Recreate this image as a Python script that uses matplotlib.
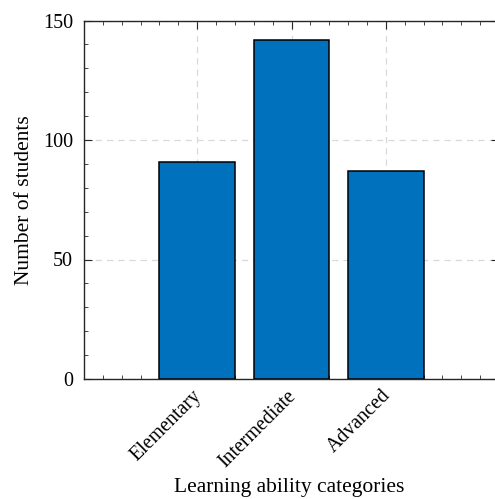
import matplotlib
matplotlib.use("Agg")
import matplotlib.pyplot as plt
from matplotlib.ticker import MultipleLocator

categories = ["Elementary", "Intermediate", "Advanced"]
counts = [91, 142, 87]

plt.rcParams["font.family"] = ["Liberation Serif", "DejaVu Serif"]

W, H = 495, 499
fig = plt.figure(figsize=(W / 100, H / 100), dpi=100)
# axes box in pixels: left 84, right 499 (runs past the canvas), top 20, bottom 379
left, right, top, bottom = 84, 499, 20.5, 379
ax = fig.add_axes([left / W, 1 - bottom / H, (right - left) / W, (bottom - top) / H])

x = list(range(1, len(categories) + 1))
ax.bar(x, counts, width=0.8, color="#0072BD", edgecolor="black", linewidth=1.1, zorder=3)

ax.set_xlim(-0.2, 4.2)
ax.set_ylim(0, 150)
ax.set_xticks(x)
ax.set_xticklabels([])
# rotated category labels, anchored just below each tick
for xi, name in zip(x, categories):
    ax.annotate(name, xy=(xi, 0), xycoords=("data", "axes fraction"),
                xytext=(-3.6, -5.3), textcoords="offset points",
                rotation=45, ha="right", va="top", rotation_mode="anchor",
                fontsize=14.3, annotation_clip=False)
ax.set_yticks([0, 50, 100, 150])
ax.tick_params(axis="y", labelsize=14.5, pad=8)
ax.xaxis.set_minor_locator(MultipleLocator(0.2))
ax.yaxis.set_minor_locator(MultipleLocator(10))
ax.tick_params(which="both", direction="in", top=True, right=True, color="#262626")
ax.tick_params(which="major", length=5.5, width=0.8)
ax.tick_params(which="minor", length=3, width=0.6)
for s in ax.spines.values():
    s.set_linewidth(1.0)
    s.set_color("#262626")

ax.grid(True, which="major", linestyle=(0, (5, 4)), color="#d9d9d9", linewidth=0.9, zorder=0)
ax.set_axisbelow(True)

ax.set_xlabel("Learning ability categories", fontsize=15.5, labelpad=0)
ax.xaxis.set_label_coords(0.494, -0.275)
ax.set_ylabel("Number of students", fontsize=15.5, labelpad=6)

fig.savefig("out.png", dpi=100)
